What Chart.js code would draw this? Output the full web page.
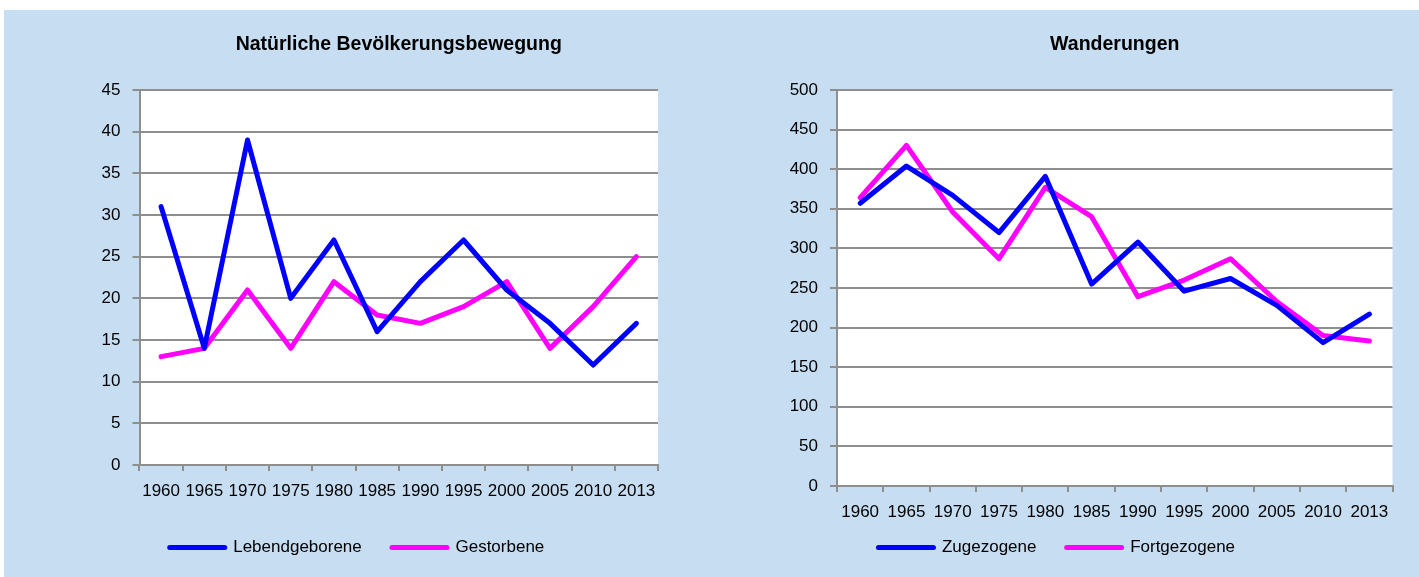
<!DOCTYPE html>
<html lang="de">
<head>
<meta charset="utf-8">
<script src="https://cdn.jsdelivr.net/npm/chart.js@4/dist/chart.umd.min.js"></script>
<style>
    html, body { margin: 0; padding: 0; background: #ffffff; overflow: hidden; }
    body { width: 1419px; height: 577px; position: relative; }
    #fundo { position: absolute; left: 4px; top: 10px; right: 0; bottom: 0; background: #c6ddf2; }
    .caixa { position: absolute; top: 10px; height: 556px; }
    #caixaEsq { left: 56px; width: 654px; }
    #caixaDir { left: 721px; width: 698px; }
</style>
</head>
<body>
<div id="fundo"></div>
<div class="caixa" id="caixaEsq"><canvas id="graficoNatur"></canvas></div>
<div class="caixa" id="caixaDir"><canvas id="graficoWand"></canvas></div>

<script>
// dados
const anos = ["1960", "1965", "1970", "1975", "1980", "1985", "1990", "1995", "2000", "2005", "2010", "2013"];

const lebendgeborene = [31, 14, 39, 20, 27, 16, 22, 27, 21, 17, 12, 17];
const gestorbene = [13, 14, 21, 14, 22, 18, 17, 19, 22, 14, 19, 25];

const zugezogene = [357, 404, 367, 320, 391, 255, 308, 246, 262, 228, 181, 217];
const fortgezogene = [364, 430, 346, 287, 377, 340, 239, 260, 287, 233, 190, 183];

const ticksNatur = { min: 0, max: 45, passo: 5 };
const ticksWand = { min: 0, max: 500, passo: 50 };

const FONTE = "'Liberation Sans', Arial, sans-serif";
const AZUL = "#0000ff";
const MAGENTA = "#ff00ff";
const CINZA = "#8e8e8e";

// fundo branco só na área do gráfico
const fundoBranco = {
    id: 'fundoBranco',
    beforeDraw(chart) {
        const a = chart.chartArea;
        const ctx = chart.ctx;
        ctx.save();
        ctx.fillStyle = "#ffffff";
        ctx.fillRect(a.left, a.top, a.right - a.left, a.bottom - a.top);
        ctx.restore();
    }
};

function serie(nome, valores, cor) {
    return {
        label: nome,
        data: valores,
        borderColor: cor,
        backgroundColor: cor,
        borderWidth: 5,
        borderCapStyle: 'round',
        borderJoinStyle: 'round',
        pointRadius: 0,
        pointHoverRadius: 0,
        tension: 0,
        fill: false
    };
}

// legenda: espaço extra depois do texto (menos no último) para afastar os itens
function legendaItens(chart) {
    const itens = Chart.defaults.plugins.legend.labels.generateLabels(chart);
    itens.forEach((it, i) => {
        if (i < itens.length - 1) it.text = it.text + "   ";
        it.lineCap = 'round';
    });
    return itens;
}

function criarGrafico(id, titulo, series, escala, larguraY, alturaX, margemDir) {
    const ctx = document.getElementById(id).getContext('2d');
    return new Chart(ctx, {
        type: 'line',
        data: { labels: anos, datasets: series },
        plugins: [fundoBranco],
        options: {
            responsive: true,
            maintainAspectRatio: false,
            animation: false,
            layout: { padding: { left: 0, right: margemDir, top: 0, bottom: 0 } },
            plugins: {
                tooltip: { enabled: false },
                title: {
                    display: true,
                    text: titulo,
                    fullSize: false,
                    color: "#000000",
                    font: { family: FONTE, size: 19.5, weight: 'bold' },
                    padding: { top: 23, bottom: 33.6 }
                },
                legend: {
                    position: 'bottom',
                    labels: {
                        usePointStyle: true,
                        pointStyle: 'line',
                        pointStyleWidth: 55,
                        padding: 16,
                        color: "#000000",
                        font: { family: FONTE, size: 17 },
                        generateLabels: legendaItens
                    }
                }
            },
            scales: {
                x: {
                    offset: true,
                    grid: {
                        offset: true,
                        drawOnChartArea: false,
                        drawTicks: true,
                        tickLength: 6,
                        color: CINZA,
                        lineWidth: 2
                    },
                    border: { color: CINZA, width: 2 },
                    ticks: {
                        color: "#000000",
                        padding: 10,
                        maxRotation: 0,
                        autoSkip: false,
                        font: { family: FONTE, size: 17 }
                    },
                    afterFit: function (s) { s.height = alturaX; }
                },
                y: {
                    min: escala.min,
                    max: escala.max,
                    grid: {
                        color: CINZA,
                        lineWidth: 2,
                        tickLength: 7
                    },
                    border: { color: CINZA, width: 2 },
                    ticks: {
                        stepSize: escala.passo,
                        color: "#000000",
                        padding: 12,
                        font: { family: FONTE, size: 17 }
                    },
                    afterFit: function (s) { s.width = larguraY; }
                }
            }
        }
    });
}

criarGrafico('graficoNatur', 'Natürliche Bevölkerungsbewegung', [
    serie('Lebendgeborene', lebendgeborene, AZUL),
    serie('Gestorbene', gestorbene, MAGENTA)
], ticksNatur, 83.5, 58, 52);

criarGrafico('graficoWand', 'Wanderungen', [
    serie('Zugezogene', zugezogene, AZUL),
    serie('Fortgezogene', fortgezogene, MAGENTA)
], ticksWand, 116, 37, 26.5);
</script>
</body>
</html>
